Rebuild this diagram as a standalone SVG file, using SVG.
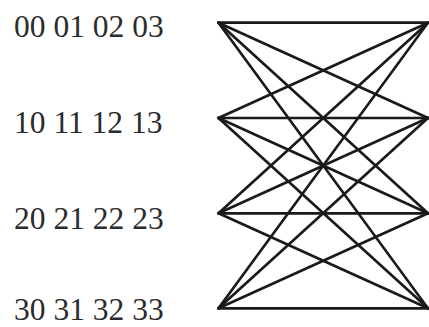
<svg xmlns="http://www.w3.org/2000/svg" width="429" height="327" viewBox="0 0 429 327">
<style>
.lbl{font-family:"Liberation Serif","Times New Roman",serif;font-size:31.5px;fill:#2b2b2b}
.e{stroke:#1a1a1a;stroke-width:2.7;fill:none;stroke-linecap:round}
</style>
<rect width="429" height="327" fill="#fff"/>
<g id="row0"><text class="lbl" x="14" y="37">00 01 02 03</text></g>
<g id="row1"><text class="lbl" x="14" y="133">10 11 12 13</text></g>
<g id="row2"><text class="lbl" x="14" y="229">20 21 22 23</text></g>
<g id="row3"><text class="lbl" x="14" y="320">30 31 32 33</text></g>
<g id="connectors">
<line class="e" x1="218.5" y1="22.7" x2="428" y2="22.7"/>
<line class="e" x1="218.5" y1="22.7" x2="428" y2="118"/>
<line class="e" x1="218.5" y1="22.7" x2="428" y2="213.3"/>
<line class="e" x1="218.5" y1="22.7" x2="428" y2="308.3"/>
<line class="e" x1="218.5" y1="118" x2="428" y2="22.7"/>
<line class="e" x1="218.5" y1="118" x2="428" y2="118"/>
<line class="e" x1="218.5" y1="118" x2="428" y2="213.3"/>
<line class="e" x1="218.5" y1="118" x2="428" y2="308.3"/>
<line class="e" x1="218.5" y1="213.3" x2="428" y2="22.7"/>
<line class="e" x1="218.5" y1="213.3" x2="428" y2="118"/>
<line class="e" x1="218.5" y1="213.3" x2="428" y2="213.3"/>
<line class="e" x1="218.5" y1="213.3" x2="428" y2="308.3"/>
<line class="e" x1="218.5" y1="308.3" x2="428" y2="22.7"/>
<line class="e" x1="218.5" y1="308.3" x2="428" y2="118"/>
<line class="e" x1="218.5" y1="308.3" x2="428" y2="213.3"/>
<line class="e" x1="218.5" y1="308.3" x2="428" y2="308.3"/>
</g>
</svg>
